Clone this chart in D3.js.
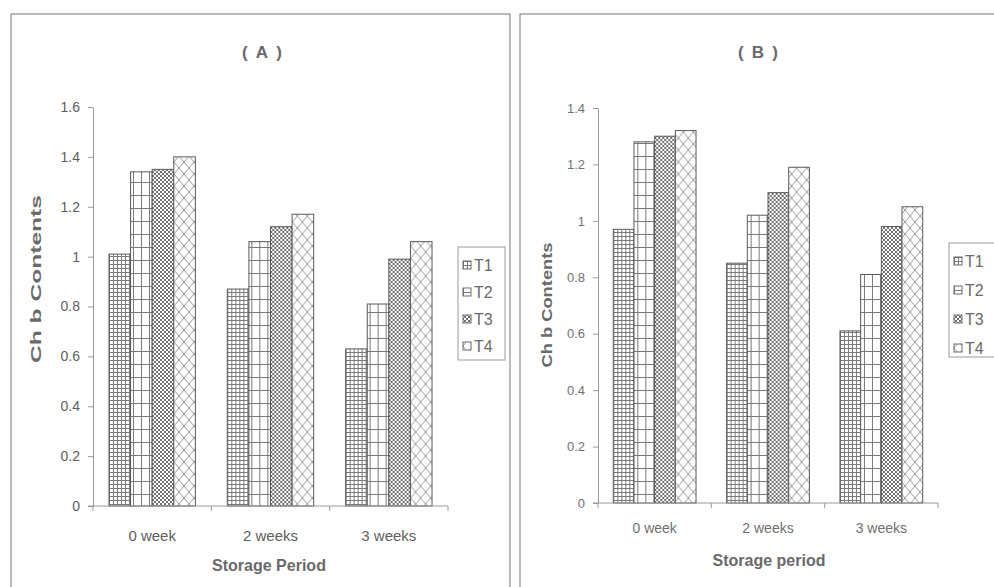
<!DOCTYPE html>
<html>
<head>
<meta charset="utf-8">
<script src="https://cdn.jsdelivr.net/npm/d3@7"></script>
<style>
  body { margin: 0; background: #fff; }
  svg { display: block; }
  text { font-family: "Liberation Sans", Arial, sans-serif; }
</style>
</head>
<body>
<svg id="chart" width="994" height="587"></svg>
<script>
// Chlorophyll b contents by storage period, two panels
const categories = ["0 week", "2 weeks", "3 weeks"];
const seriesNames = ["T1", "T2", "T3", "T4"];

const panelA_T1 = [1.01, 0.87, 0.63];
const panelA_T2 = [1.34, 1.06, 0.81];
const panelA_T3 = [1.35, 1.12, 0.99];
const panelA_T4 = [1.40, 1.17, 1.06];

const panelB_T1 = [0.97, 0.85, 0.61];
const panelB_T2 = [1.28, 1.02, 0.81];
const panelB_T3 = [1.30, 1.10, 0.98];
const panelB_T4 = [1.32, 1.19, 1.05];

const ticksA = [0, 0.2, 0.4, 0.6, 0.8, 1, 1.2, 1.4, 1.6];
const tickLabelsA = ["0", "0.2", "0.4", "0.6", "0.8", "1", "1.2", "1.4", "1.6"];
const ticksB = [0, 0.2, 0.4, 0.6, 0.8, 1, 1.2, 1.4];
const tickLabelsB = ["0", "0.2", "0.4", "0.6", "0.8", "1", "1.2", "1.4"];

const svg = d3.select("#chart");
const defs = svg.append("defs");

// hatch fills, one per treatment
function addPattern(id, w, h, draw) {
  const p = defs.append("pattern")
    .attr("id", id).attr("patternUnits", "userSpaceOnUse")
    .attr("width", w).attr("height", h);
  p.append("rect").attr("width", w).attr("height", h).attr("fill", "#fff");
  draw(p);
}
addPattern("pat-T1", 4, 4, p => p.append("path")
  .attr("d", "M0,0.5H4M0.5,0V4").attr("stroke", "#7a7a7a").attr("stroke-width", 1).attr("fill", "none"));
addPattern("pat-T2", 8, 13, p => p.append("path")
  .attr("d", "M0,0.5H8M0.5,0V13").attr("stroke", "#7a7a7a").attr("stroke-width", 1).attr("fill", "none"));
addPattern("pat-T3", 4, 4, p => p.append("path")
  .attr("d", "M0,0L4,4M4,0L0,4").attr("stroke", "#6e6e6e").attr("stroke-width", 1).attr("fill", "none"));
addPattern("pat-T4", 10, 12, p => p.append("path")
  .attr("d", "M0,0L10,12M10,0L0,12").attr("stroke", "#9a9a9a").attr("stroke-width", 1).attr("fill", "none"));

function drawPanel(cfg) {
  const g = svg.append("g");

  // panel frame
  g.append("rect")
    .attr("x", cfg.frame[0]).attr("y", cfg.frame[1])
    .attr("width", cfg.frame[2]).attr("height", cfg.frame[3])
    .attr("fill", "none").attr("stroke", "#8c8c8c").attr("stroke-width", 1.2);

  const x0 = d3.scaleBand().domain(categories).range(cfg.xRange)
    .paddingInner(0.27).paddingOuter(0.135);
  const x1 = d3.scaleBand().domain(seriesNames).range([0, x0.bandwidth()]);
  const y = d3.scaleLinear().domain([0, cfg.yMax]).range(cfg.yRange);

  const rows = categories.map((c, i) => ({
    cat: c,
    vals: seriesNames.map((s, k) => ({ s, v: cfg.series[k][i] }))
  }));

  // bars
  g.selectAll("g.grp").data(rows).join("g").attr("class", "grp")
    .attr("transform", d => `translate(${x0(d.cat)},0)`)
    .selectAll("rect").data(d => d.vals).join("rect")
    .attr("x", d => x1(d.s)).attr("y", d => y(d.v))
    .attr("width", x1.bandwidth()).attr("height", d => y(0) - y(d.v))
    .attr("fill", d => `url(#pat-${d.s})`)
    .attr("stroke", "#5a5a5a").attr("stroke-width", 1);

  // y axis
  const yAxis = g.append("g")
    .attr("transform", `translate(${cfg.xRange[0]},0)`)
    .call(d3.axisLeft(y).tickValues(cfg.ticks)
      .tickFormat((d, i) => cfg.tickLabels[i]).tickSize(5).tickPadding(8));
  yAxis.select(".domain").attr("stroke", "#9a9a9a");
  yAxis.selectAll(".tick line").attr("stroke", "#9a9a9a");
  yAxis.selectAll(".tick text").attr("fill", cfg.tickColor)
    .attr("font-size", cfg.tickFont).attr("font-family", "Liberation Sans, Arial, sans-serif");

  // x axis: line with boundary ticks between categories
  const xAxis = g.append("g").attr("transform", `translate(0,${y(0)})`);
  xAxis.append("line")
    .attr("x1", cfg.xRange[0] - 5).attr("x2", cfg.xRange[1])
    .attr("stroke", "#9a9a9a");
  const bounds = d3.range(categories.length + 1).map(i => cfg.xRange[0] + i * x0.step());
  xAxis.selectAll("line.b").data(bounds).join("line").attr("class", "b")
    .attr("x1", d => d).attr("x2", d => d).attr("y1", 0).attr("y2", 5)
    .attr("stroke", "#9a9a9a");

  // category labels
  g.selectAll("text.cat").data(categories).join("text").attr("class", "cat")
    .attr("x", d => x0(d) + x0.bandwidth() / 2).attr("y", cfg.catLabelY)
    .attr("text-anchor", "middle").attr("fill", cfg.tickColor)
    .attr("font-size", cfg.catFont)
    .text(d => d);

  // titles
  g.append("text")
    .attr("x", cfg.titleX).attr("y", 58).attr("text-anchor", "middle")
    .attr("font-size", 17).attr("font-weight", "bold").attr("fill", "#6a6a6a")
    .attr("textLength", 40).attr("lengthAdjust", "spacing")
    .text(cfg.title);

  g.append("text")
    .attr("transform", `translate(${cfg.yTitlePos[0]},${cfg.yTitlePos[1]}) rotate(-90)`)
    .attr("text-anchor", "middle").attr("font-size", cfg.yTitleFont)
    .attr("font-weight", "bold").attr("fill", "#6a6a6a")
    .attr("textLength", cfg.yTitleLen).attr("lengthAdjust", "spacingAndGlyphs")
    .text("Ch b Contents");

  g.append("text")
    .attr("x", cfg.xTitlePos[0]).attr("y", cfg.xTitlePos[1]).attr("text-anchor", "middle")
    .attr("font-size", 16).attr("font-weight", "bold").attr("fill", "#6a6a6a")
    .text(cfg.xTitle);

  // legend
  const lg = g.append("g");
  lg.append("rect")
    .attr("x", cfg.legend[0]).attr("y", cfg.legend[1])
    .attr("width", cfg.legend[2]).attr("height", cfg.legend[3])
    .attr("fill", "#fff").attr("stroke", "#9a9a9a");
  const items = lg.selectAll("g.item").data(seriesNames).join("g").attr("class", "item")
    .attr("transform", (d, i) => `translate(${cfg.legend[0] + 5},${cfg.legend[1] + 18 + i * cfg.legendStep})`);
  items.append("rect").attr("x", 0).attr("y", -4).attr("width", 8).attr("height", 8)
    .attr("fill", d => `url(#pat-${d})`).attr("stroke", "#6a6a6a");
  items.append("text").attr("x", 11).attr("y", 6)
    .attr("font-size", 16).attr("fill", "#6a6a6a").text(d => d);
}

drawPanel({
  frame: [11, 14, 499, 620],
  xRange: [93, 448], yRange: [506, 107], yMax: 1.6,
  series: [panelA_T1, panelA_T2, panelA_T3, panelA_T4],
  ticks: ticksA, tickLabels: tickLabelsA,
  tickColor: "#5e5e5e", tickFont: 14, catFont: 15, catLabelY: 541,
  title: "( A )", titleX: 262,
  yTitlePos: [41, 279], yTitleFont: 15, yTitleLen: 168,
  xTitle: "Storage Period", xTitlePos: [269, 571],
  legend: [458, 247, 47, 113], legendStep: 27
});

drawPanel({
  frame: [520, 14, 500, 620],
  xRange: [598, 938], yRange: [503, 108], yMax: 1.4,
  series: [panelB_T1, panelB_T2, panelB_T3, panelB_T4],
  ticks: ticksB, tickLabels: tickLabelsB,
  tickColor: "#707070", tickFont: 13, catFont: 14, catLabelY: 533,
  title: "( B )", titleX: 758,
  yTitlePos: [552, 305], yTitleFont: 14, yTitleLen: 125,
  xTitle: "Storage period", xTitlePos: [769, 566],
  legend: [949, 243, 46, 114], legendStep: 29
});
</script>
</body>
</html>
